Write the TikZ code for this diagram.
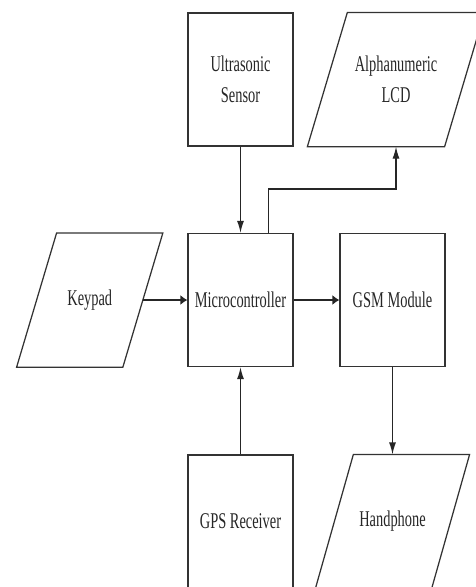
\documentclass[tikz,border=0pt]{standalone}
\usepackage{fontspec}
\setmainfont[FakeStretch=0.64]{Liberation Serif}
\usetikzlibrary{arrows.meta}
\begin{document}
\begin{tikzpicture}[x=1pt,y=-1pt,
  line width=1.25pt,
  every node/.style={font=\fontsize{22.5}{31}\selectfont, text=black!85},
  blockbox/.style={draw=black!80, rectangle, minimum width=105pt, minimum height=133pt, inner sep=0pt, align=center},
  iobox/.style={rectangle, minimum height=133pt, inner sep=0pt, align=center},
  vline/.style={draw=black!85, -{Latex[length=12pt,width=7pt]}},
  hline/.style={draw=black!85, -{Latex[length=7pt,width=10pt]}},
  outline/.style={draw=black!80, line join=miter}
]
\useasboundingbox (0,0) rectangle (476,587);
\clip (0,0) rectangle (476,587);

% nodes
\node[blockbox] (u) at (240.5,79.5) {Ultrasonic\\Sensor};
\node[iobox, minimum width=136pt] (l) at (396,79.5) {Alphanumeric\\LCD};
\node[iobox, minimum width=105pt] (k) at (89.75,300) {Keypad};
\node[blockbox] (m) at (240.5,300) {Microcontroller};
\node[blockbox] (g) at (392.5,300) {GSM Module};
\node[blockbox] (p) at (240.5,521.5) {GPS Receiver};
\node[iobox, minimum width=115pt] (h) at (392.5,521.5) {Handphone};

% parallelogram outlines
\draw[outline] ([xshift=20pt]l.north west) -- ([xshift=20pt]l.north east)
  -- ([xshift=-20pt]l.south east) -- ([xshift=-20pt]l.south west) -- cycle;
\draw[outline] ([xshift=20pt]k.north west) -- ([xshift=20pt]k.north east)
  -- ([xshift=-20pt]k.south east) -- ([xshift=-20pt]k.south west) -- cycle;
\draw[outline] ([xshift=19pt]h.north west) -- ([xshift=19pt]h.north east)
  -- ([xshift=-19pt]h.south east) -- ([xshift=-19pt]h.south west) -- cycle;

% connectors
\draw[vline] (u.south) -- (m.north);
\draw[vline] ([xshift=-25pt]m.north east) -- ++(0,-44) -| (l.south);
\draw[hline] (k.east) -- (m.west);
\draw[hline] (m.east) -- (g.west);
\draw[vline] (p.north) -- (m.south);
\draw[vline] (g.south) -- (h.north);
\end{tikzpicture}
\end{document}
